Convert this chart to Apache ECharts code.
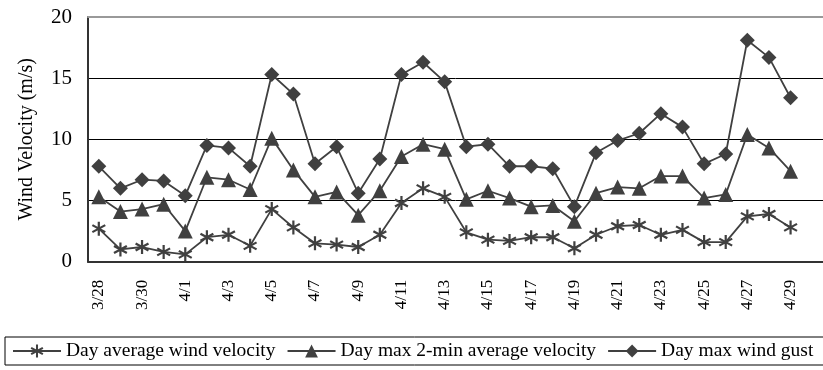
<!DOCTYPE html>
<html>
<head>
<meta charset="utf-8">
<script src="https://cdn.jsdelivr.net/npm/echarts@6/dist/echarts.min.js"></script>
<style>
  html, body { margin: 0; padding: 0; background: #fff; }
  #main { width: 823px; height: 370px; }
</style>
</head>
<body>
<div id="main"></div>
<script>
// dates (4/30 is cut off at the right edge of the picture)
var dates = ['3/28','3/29','3/30','3/31','4/1','4/2','4/3','4/4','4/5','4/6','4/7','4/8','4/9','4/10',
    '4/11','4/12','4/13','4/14','4/15','4/16','4/17','4/18','4/19','4/20','4/21','4/22','4/23','4/24',
    '4/25','4/26','4/27','4/28','4/29','4/30'];
var avgVelocity = [2.7,1.0,1.2,0.8,0.6,2.0,2.2,1.3,4.3,2.8,1.5,1.4,1.2,2.2,
    4.8,6.0,5.3,2.4,1.8,1.7,2.0,2.0,1.1,2.2,2.9,3.0,2.2,2.6,
    1.6,1.6,3.7,3.9,2.8,'-'];
var max2minVelocity = [5.3,4.1,4.3,4.7,2.5,6.9,6.7,5.9,10.1,7.5,5.3,5.7,3.8,5.8,
    8.6,9.6,9.2,5.1,5.8,5.2,4.5,4.6,3.3,5.6,6.1,6.0,7.0,7.0,
    5.2,5.5,10.4,9.3,7.4,'-'];
var maxGust = [7.8,6.0,6.7,6.6,5.4,9.5,9.3,7.8,15.3,13.7,8.0,9.4,5.6,8.4,
    15.3,16.3,14.7,9.4,9.6,7.8,7.8,7.6,4.5,8.9,9.9,10.5,12.1,11.0,
    8.0,8.8,18.1,16.7,13.4,'-'];
var yTicks = { min: 0, max: 20, interval: 5 };

var lineColor = '#404040';
var serif = 'Liberation Serif';
// six-armed star marker, filled bars
var asterisk = 'path://M8.5 0L11.5 0L11.5 20L8.5 20Z M2.05 3.7L19.45 13.7L17.95 16.3L0.55 6.3Z M17.95 3.7L19.45 6.3L2.05 16.3L0.55 13.7Z';

function makeSeries(name, data, symbol, size) {
    return {
        name: name,
        type: 'line',
        data: data,
        symbol: symbol,
        symbolSize: size,
        showAllSymbol: true,
        lineStyle: { color: lineColor, width: 1.8 },
        itemStyle: { color: lineColor },
        emphasis: { disabled: true },
        animation: false
    };
}

var chart = echarts.init(document.getElementById('main'));
var option = {
    grid: { left: 88, top: 17, width: 740, height: 244.7 },
    legend: {
        left: 5, top: 337,
        width: 1000,
        padding: [4, 14, 4, 7],
        itemGap: 11,
        itemWidth: 48, itemHeight: 16,
        borderColor: '#000', borderWidth: 1,
        textStyle: { fontFamily: serif, fontSize: 19.5, color: '#000' },
        data: ['Day average wind velocity', 'Day max 2-min average velocity', 'Day max wind gust']
    },
    xAxis: [{
        type: 'category',
        data: dates,
        boundaryGap: true,
        axisLine: { lineStyle: { color: '#333', width: 2 } },
        axisTick: { interval: 1, length: 5, lineStyle: { color: '#333' } },
        axisLabel: {
            interval: 1, rotate: 90, margin: 18,
            fontFamily: serif, fontSize: 17, color: '#000'
        },
        splitLine: { show: false }
    }, {
        type: 'category',
        position: 'top',
        data: dates,
        axisLine: { lineStyle: { color: '#999', width: 2 } },
        axisTick: { show: false },
        axisLabel: { show: false }
    }],
    yAxis: {
        type: 'value',
        min: yTicks.min, max: yTicks.max, interval: yTicks.interval,
        name: 'Wind Velocity (m/s)',
        nameLocation: 'middle',
        nameGap: 51,
        nameTextStyle: { fontFamily: serif, fontSize: 20, color: '#000' },
        axisLine: { show: true, lineStyle: { color: '#333', width: 2 } },
        axisTick: { show: false },
        axisLabel: { fontFamily: serif, fontSize: 21, color: '#000', margin: 16 },
        splitLine: { lineStyle: { color: '#000', width: 1 } }
    },
    series: [
        makeSeries('Day average wind velocity', avgVelocity, asterisk, 14),
        makeSeries('Day max 2-min average velocity', max2minVelocity, 'triangle', 15),
        makeSeries('Day max wind gust', maxGust, 'diamond', 15)
    ]
};
chart.setOption(option, true);
window.onresize = chart.resize;
</script>
</body>
</html>
